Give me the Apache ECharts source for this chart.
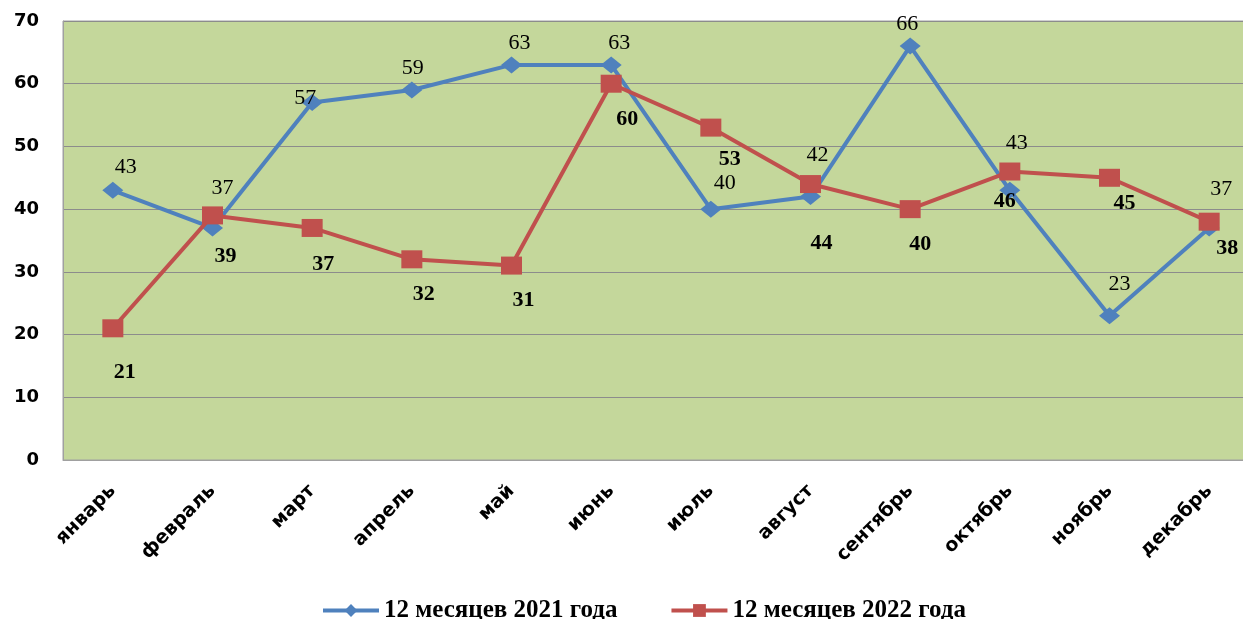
<!DOCTYPE html>
<html>
<head>
<meta charset="utf-8">
<script src="https://cdn.jsdelivr.net/npm/echarts@6/dist/echarts.min.js"></script>
<style>
html,body{margin:0;padding:0;background:#fff;overflow:hidden;width:1243px;height:619px;}
#chart{width:1259px;height:619px;}
</style>
</head>
<body>
<div id="chart"></div>
<script>
const categories = ['январь','февраль','март','апрель','май','июнь','июль','август','сентябрь','октябрь','ноябрь','декабрь'];
const seriesNames = ['12 месяцев 2021 года','12 месяцев 2022 года'];
const values2021 = [43, 37, 57, 59, 63, 63, 40, 42, 66, 43, 23, 37];
const values2022 = [21, 39, 37, 32, 31, 60, 53, 44, 40, 46, 45, 38];
const yTicks = {min: 0, max: 70, interval: 10};

// label placement tweaks (pixel offsets, styling only)
const shift2021 = [[13,-2],[10,-18],[-7,17],[1,0],[8,0],[8,0],[14,-4],[7,-20],[-3,0],[7,-26],[10,-10],[12,-17]];
const shift2022 = [[12,14],[13,11],[11,6],[12,5],[12,5],[16,6],[19,2],[11,29],[10,5],[-5,0],[15,-4],[18,-3]];

const chart = echarts.init(document.getElementById('chart'));
const blue = '#4F81BD', red = '#C0504D';

function mk(vals, shifts) {
  return vals.map((v, i) => ({value: v, label: {offset: shifts[i]}}));
}

chart.setOption({
  animation: false,
  backgroundColor: '#ffffff',
  grid: {
    left: 63, top: 21, bottom: 159, right: 0,
    show: true, backgroundColor: '#C4D79B', borderColor: '#A0A0A0', borderWidth: 1,
    containLabel: false
  },
  legend: {
    top: 593, left: 316,
    itemWidth: 56, itemHeight: 16, itemGap: 52,
    lineStyle: {width: 4},
    textStyle: {fontFamily: 'Liberation Serif', fontWeight: 'bold', fontSize: 25, color: '#000'},
    data: seriesNames
  },
  xAxis: {
    type: 'category', data: categories, boundaryGap: true,
    axisLine: {show: true, lineStyle: {color: '#A0A0A0', width: 1}},
    axisTick: {show: false},
    axisLabel: {rotate: 45, margin: 28, fontFamily: 'DejaVu Sans', fontWeight: 'bold', fontSize: 19, color: '#000', interval: 0}
  },
  yAxis: {
    type: 'value', min: yTicks.min, max: yTicks.max, interval: yTicks.interval,
    axisLine: {show: true, lineStyle: {color: '#A0A0A0'}},
    axisTick: {show: false},
    splitLine: {lineStyle: {color: '#8C8C8C', width: 1}},
    axisLabel: {margin: 24, fontFamily: 'DejaVu Sans', fontWeight: 'bold', fontSize: 18, color: '#000'}
  },
  series: [
    {
      name: seriesNames[0], type: 'line', data: mk(values2021, shift2021),
      symbol: 'diamond', symbolSize: [21, 17],
      lineStyle: {color: blue, width: 4}, itemStyle: {color: blue},
      label: {show: true, position: 'top', distance: 2, fontFamily: 'Liberation Serif', fontSize: 22, color: '#000'},
      z: 2
    },
    {
      name: seriesNames[1], type: 'line', data: mk(values2022, shift2022),
      symbol: 'rect', symbolSize: [21, 18],
      lineStyle: {color: red, width: 4}, itemStyle: {color: red},
      label: {show: true, position: 'bottom', distance: 10, fontFamily: 'Liberation Serif', fontWeight: 'bold', fontSize: 22, color: '#000'},
      z: 3
    }
  ]
});
</script>
</body>
</html>
